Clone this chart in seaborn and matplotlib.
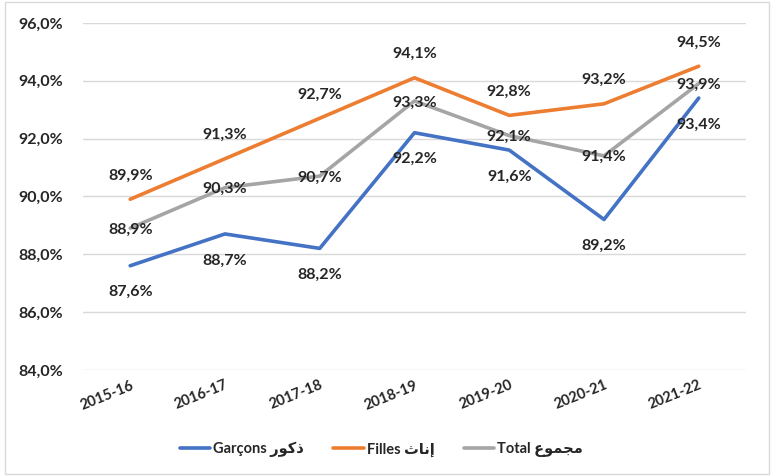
import matplotlib
matplotlib.use("Agg")
import matplotlib.pyplot as plt
import matplotlib.patches as mpatches
from matplotlib.ticker import FuncFormatter
import seaborn as sns
import pandas as pd

years = ["2015-16", "2016-17", "2017-18", "2018-19", "2019-20", "2020-21", "2021-22"]
garcons = [87.6, 88.7, 88.2, 92.2, 91.6, 89.2, 93.4]
filles = [89.9, 91.3, 92.7, 94.1, 92.8, 93.2, 94.5]
total = [88.9, 90.3, 90.7, 93.3, 92.1, 91.4, 93.9]

# arabic written in presentation forms, visual order (matplotlib does no shaping)
lbl_g = "Garçons \uFEAD\uFEEE\uFEDB\uFEAB"
lbl_f = "Filles \uFE99\uFE8E\uFEE7\uFE87"
lbl_t = "Total \uFEC9\uFEEE\uFEE4\uFEA0\uFEE3"

df = pd.DataFrame({
    "year": years * 3,
    "value": garcons + filles + total,
    "serie": [lbl_g] * 7 + [lbl_f] * 7 + [lbl_t] * 7,
})

sns.set_style("white")
plt.rcParams["font.family"] = ["Lato", "DejaVu Sans"]
plt.rcParams["font.weight"] = "bold"

colors = {lbl_g: "#4472C4", lbl_f: "#ED7D31", lbl_t: "#A5A5A5"}

fig = plt.figure(figsize=(7.74, 4.76), dpi=100)
ax = fig.add_axes([0.107, 0.223, 0.857, 0.729])

sns.lineplot(data=df, x="year", y="value", hue="serie", palette=colors,
             linewidth=2.6, sort=False, ax=ax)

ax.set_xlim(-0.5, 6.5)
ax.set_ylim(84, 96)
ax.set_yticks(range(84, 97, 2))
ax.yaxis.set_major_formatter(FuncFormatter(lambda v, p: f"{v:.1f}%".replace(".", ",")))
ax.grid(axis="y", color="#D9D9D9", linewidth=1)
ax.set_axisbelow(True)
for s in ax.spines.values():
    s.set_visible(False)
ax.tick_params(length=0)
ax.tick_params(axis="y", labelsize=11.5, pad=14)
ax.tick_params(axis="x", labelsize=10.5, pad=6)
plt.setp(ax.get_xticklabels(), rotation=22, ha="right", rotation_mode="anchor",
         fontweight="bold")
plt.setp(ax.get_yticklabels(), fontweight="bold")
ax.set_xlabel("")
ax.set_ylabel("")

def fmt(v):
    return f"{v:.1f}%".replace(".", ",")

for i in range(len(years)):
    ax.annotate(fmt(garcons[i]), (i, garcons[i]), xytext=(0, -19), textcoords="offset points",
                ha="center", va="center", fontsize=11.5, fontweight="bold")
    ax.annotate(fmt(filles[i]), (i, filles[i]), xytext=(0, 17), textcoords="offset points",
                ha="center", va="center", fontsize=11.5, fontweight="bold")
    ax.annotate(fmt(total[i]), (i, total[i]), xytext=(0, -1), textcoords="offset points",
                ha="center", va="center", fontsize=11.5, fontweight="bold")

leg = ax.legend(loc="center", bbox_to_anchor=(0.45, -0.23), ncol=3, frameon=False,
                fontsize=10.5, handlelength=2.1, columnspacing=2.0, handletextpad=0.2)
for t in leg.get_texts():
    t.set_fontweight("bold")

fig.patches.append(mpatches.Rectangle((0.006, 0.004), 0.988, 0.992, transform=fig.transFigure,
                                      fill=False, edgecolor="#D9D9D9", linewidth=1))

fig.savefig("out.png", dpi=100)
